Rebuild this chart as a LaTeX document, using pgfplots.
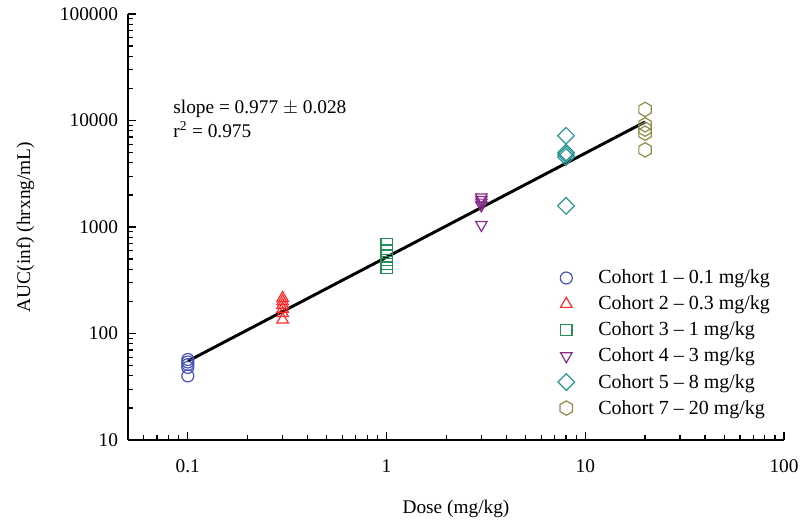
\documentclass[border=0pt]{standalone}
\usepackage{pgfplots}
\pgfplotsset{compat=1.18}
\usepackage{fontspec}
\setmainfont{Liberation Serif}
\usetikzlibrary{plotmarks}
\definecolor{cblue}{HTML}{4652B4}
\definecolor{cred}{HTML}{FF2A2A}
\definecolor{cgreen}{HTML}{23905A}
\definecolor{cpurple}{HTML}{862A8A}
\definecolor{cteal}{HTML}{2A9494}
\definecolor{colive}{HTML}{8C8C46}
\pgfdeclareplotmark{hexagon}{%
  \pgfpathmoveto{\pgfpointpolar{90}{\pgfplotmarksize}}%
  \pgfpathlineto{\pgfpointpolar{150}{\pgfplotmarksize}}%
  \pgfpathlineto{\pgfpointpolar{210}{\pgfplotmarksize}}%
  \pgfpathlineto{\pgfpointpolar{270}{\pgfplotmarksize}}%
  \pgfpathlineto{\pgfpointpolar{330}{\pgfplotmarksize}}%
  \pgfpathlineto{\pgfpointpolar{30}{\pgfplotmarksize}}%
  \pgfpathclose\pgfusepathqstroke}
\begin{document}
\begin{tikzpicture}
\useasboundingbox (-96pt,-63.75pt) rectangle (504pt,330pt);
\begin{axis}[
  at={(0,0)}, anchor=south west,
  scale only axis, width=492pt, height=319.5pt,
  xmode=log, ymode=log,
  xmin=0.05, xmax=100, ymin=10, ymax=100000,
  axis x line*=bottom, axis y line*=left,
  axis line style={line width=1.1pt,-},
  tick style={line width=0.9pt, black},
  major tick length=6pt, minor tick length=3.5pt,
  tick align=inside,
  xtick={0.1,1,10,100}, xticklabels={0.1,1,10,100},
  ytick={10,100,1000,10000,100000}, yticklabels={10,100,1000,10000,100000},
  minor xtick={0.06,0.07,0.08,0.09,0.2,0.3,0.4,0.5,0.6,0.7,0.8,0.9,2,3,4,5,6,7,8,9,20,30,40,50,60,70,80,90},
  minor ytick={20,30,40,50,60,70,80,90,200,300,400,500,600,700,800,900,2000,3000,4000,5000,6000,7000,8000,9000,20000,30000,40000,50000,60000,70000,80000,90000},
  /pgf/number format/assume math mode=true,
  ticklabel style={font=\fontsize{14.5}{17}\selectfont},
  xticklabel style={yshift=-11pt},
  yticklabel style={xshift=-4pt},
  xlabel={Dose (mg/kg)},
  ylabel={AUC(inf) (hrxng/mL)},
  label style={font=\fontsize{14.5}{17}\selectfont},
  xlabel style={at={(axis description cs:0.5,0)}, anchor=center, yshift=-52pt},
  ylabel style={at={(axis description cs:0,0.5)}, anchor=center, yshift=77pt},
  legend style={draw=none, fill=none, at={(rel axis cs:0.649,0.412)}, anchor=north west,
    font=\fontsize{15}{17}\selectfont, row sep=3.6pt,
    legend cell align=left},
  legend image code/.code={\draw[#1] plot coordinates {(0.3cm,0cm)};},
  clip=false,
]
\addplot[only marks, mark=o, mark size=4.5pt, cblue, line width=0.9pt] coordinates {
 (0.1,57) (0.1,54) (0.1,51) (0.1,48) (0.1,40)};
\addlegendentry{\hspace{1.05em}Cohort 1 -- 0.1 mg/kg}
\addplot[only marks, mark=triangle, mark size=5pt, cred, line width=0.9pt] coordinates {
 (0.3,215) (0.3,200) (0.3,185) (0.3,170) (0.3,155) (0.3,135)};
\addlegendentry{\hspace{1.05em}Cohort 2 -- 0.3 mg/kg}
\addplot[only marks, mark=square, mark size=4.2pt, cgreen, line width=0.9pt] coordinates {
 (1,690) (1,600) (1,530) (1,490) (1,450) (1,410)};
\addlegendentry{\hspace{1.05em}Cohort 3 -- 1 mg/kg}
\addplot[only marks, mark=triangle, mark size=5pt, mark options={rotate=180}, cpurple, line width=0.9pt] coordinates {
 (3,1900) (3,1800) (3,1700) (3,1600) (3,1050)};
\addlegendentry{\hspace{1.05em}Cohort 4 -- 3 mg/kg}
\addplot[only marks, mark=square, mark size=4.4pt, mark options={rotate=45}, cteal, line width=0.9pt] coordinates {
 (8,7200) (8,5000) (8,4800) (8,4550) (8,1580)};
\addlegendentry{\hspace{1.05em}Cohort 5 -- 8 mg/kg}
\addplot[only marks, mark=hexagon, mark size=5.4pt, colive, line width=0.9pt] coordinates {
 (20,12700) (20,9100) (20,8300) (20,7600) (20,5300)};
\addlegendentry{\hspace{1.05em}Cohort 7 -- 20 mg/kg}
\addplot[black, line width=2.2pt, forget plot] coordinates {(0.1,55) (20,9700)};
\node[anchor=west, align=left, font=\fontsize{14.5}{18}\selectfont] at (rel axis cs:0.062,0.753)
  {slope = 0.977 $\pm$ 0.028\\r\textsuperscript{2} = 0.975};
\end{axis}
\end{tikzpicture}
\end{document}
